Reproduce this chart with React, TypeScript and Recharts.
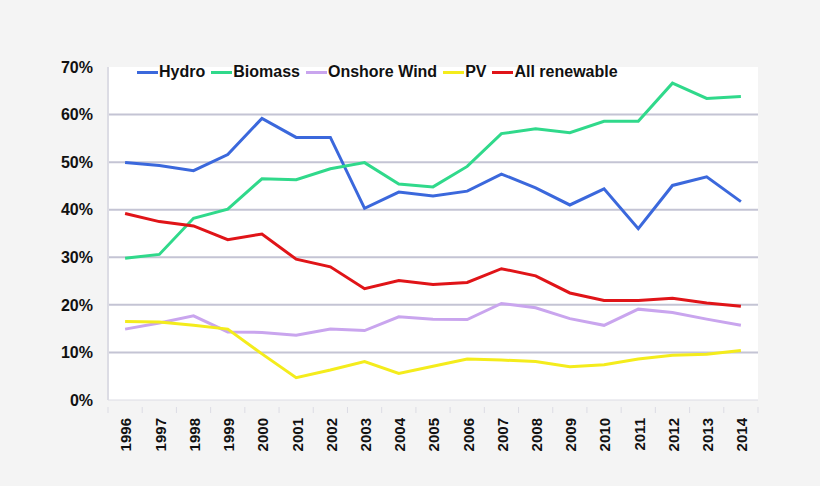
import React from 'react';
import { LineChart, Line, XAxis, YAxis, CartesianGrid, Legend } from 'recharts';

const years = ['1996','1997','1998','1999','2000','2001','2002','2003','2004','2005','2006','2007','2008','2009','2010','2011','2012','2013','2014'];
const hydro = [49.9,49.3,48.2,51.6,59.2,55.2,55.2,40.3,43.7,42.9,43.9,47.5,44.6,41.0,44.4,36.0,45.1,46.9,41.7];
const biomass = [29.8,30.6,38.2,40.1,46.5,46.3,48.6,49.9,45.4,44.8,49.1,56.0,57.0,56.2,58.6,58.6,66.6,63.4,63.8];
const onshoreWind = [14.9,16.2,17.7,14.3,14.2,13.6,14.9,14.6,17.5,17.0,16.9,20.3,19.4,17.1,15.7,19.1,18.4,17.0,15.7];
const pv = [16.5,16.4,15.7,14.9,9.7,4.7,6.3,8.1,5.6,7.1,8.6,8.4,8.1,7.0,7.4,8.6,9.4,9.6,10.4];
const allRenewable = [39.2,37.5,36.6,33.7,34.9,29.6,28.0,23.4,25.1,24.3,24.7,27.6,26.1,22.5,20.9,20.9,21.4,20.4,19.7];
const yTicks = [0,10,20,30,40,50,60,70];
const seriesNames = ['Hydro', 'Biomass', 'Onshore Wind', 'PV', 'All renewable'];

const data = years.map((y, i) => ({
  year: y,
  hydro: hydro[i],
  biomass: biomass[i],
  wind: onshoreWind[i],
  pv: pv[i],
  all: allRenewable[i],
}));

const FONT = '"Liberation Sans", Arial, Helvetica, sans-serif';

const XTick = (props: any) => {
  const { x, y, payload, index } = props;
  const half = 17.1;
  return (
    <g>
      <line x1={x - half} y1={y - 1} x2={x - half} y2={y + 5} stroke="#dcdce4" strokeWidth={1} />
      {index === years.length - 1 && (
        <line x1={x + half} y1={y - 1} x2={x + half} y2={y + 5} stroke="#dcdce4" strokeWidth={1} />
      )}
      <text
        x={x + 1}
        y={y + 10}
        transform={`rotate(-90, ${x + 1}, ${y + 10})`}
        textAnchor="end"
        dy="0.36em"
        fontFamily={FONT}
        fontWeight="bold"
        fontSize={15}
        fill="#111"
      >
        {payload.value}
      </text>
    </g>
  );
};

const LegendContent = (props: any) => {
  const payload = [...(props.payload || [])].sort(
    (a: any, b: any) => seriesNames.indexOf(a.value) - seriesNames.indexOf(b.value)
  );
  return (
    <div style={{ display: 'flex', alignItems: 'center', fontFamily: FONT, fontWeight: 'bold', fontSize: 16, color: '#111', lineHeight: '20px', whiteSpace: 'nowrap' }}>
      {payload.map((p: any) => (
        <div key={p.value} style={{ display: 'flex', alignItems: 'center', marginRight: 6 }}>
          <span style={{ display: 'inline-block', width: 21, height: 3, background: p.color, marginRight: 1 }} />
          <span>{p.value}</span>
        </div>
      ))}
    </div>
  );
};

export default function App() {
  return (
    <div style={{ position: 'absolute', left: 0, top: 0, width: 820, height: 486, background: '#f4f4f4' }}>
      <LineChart width={820} height={486} data={data} margin={{ top: 47, right: 62, bottom: 0, left: 0 }}>
        <CartesianGrid
          vertical={false}
          horizontalValues={[10, 20, 30, 40, 50, 60]}
          stroke="#c4c4d4"
          strokeWidth={2}
          fill="#ffffff"
        />
        <XAxis
          dataKey="year"
          scale="band"
          height={86}
          axisLine={{ stroke: '#dcdce4', strokeWidth: 1 }}
          tickLine={false}
          tick={<XTick />}
          interval={0}
        />
        <YAxis
          width={108}
          domain={[0, 70]}
          ticks={yTicks}
          tickFormatter={(v: number) => `${v}%`}
          axisLine={{ stroke: '#dcdce4', strokeWidth: 2 }}
          tickLine={false}
          tickSize={0}
          tickMargin={15}
          tick={{ fontFamily: FONT, fontWeight: 'bold', fontSize: 16, fill: '#111' }}
        />
        <Legend
          verticalAlign="top"
          align="left"
          content={<LegendContent />}
          wrapperStyle={{ top: 62, left: 137, width: 'auto' }}
        />
        <Line type="linear" dataKey="hydro" name="Hydro" stroke="#3b68dc" strokeWidth={3} dot={false} isAnimationActive={false} />
        <Line type="linear" dataKey="biomass" name="Biomass" stroke="#30d98b" strokeWidth={3} dot={false} isAnimationActive={false} />
        <Line type="linear" dataKey="wind" name="Onshore Wind" stroke="#c9a5ee" strokeWidth={3} dot={false} isAnimationActive={false} />
        <Line type="linear" dataKey="pv" name="PV" stroke="#f4ec1c" strokeWidth={3} dot={false} isAnimationActive={false} />
        <Line type="linear" dataKey="all" name="All renewable" stroke="#e01418" strokeWidth={3} dot={false} isAnimationActive={false} />
      </LineChart>
    </div>
  );
}
